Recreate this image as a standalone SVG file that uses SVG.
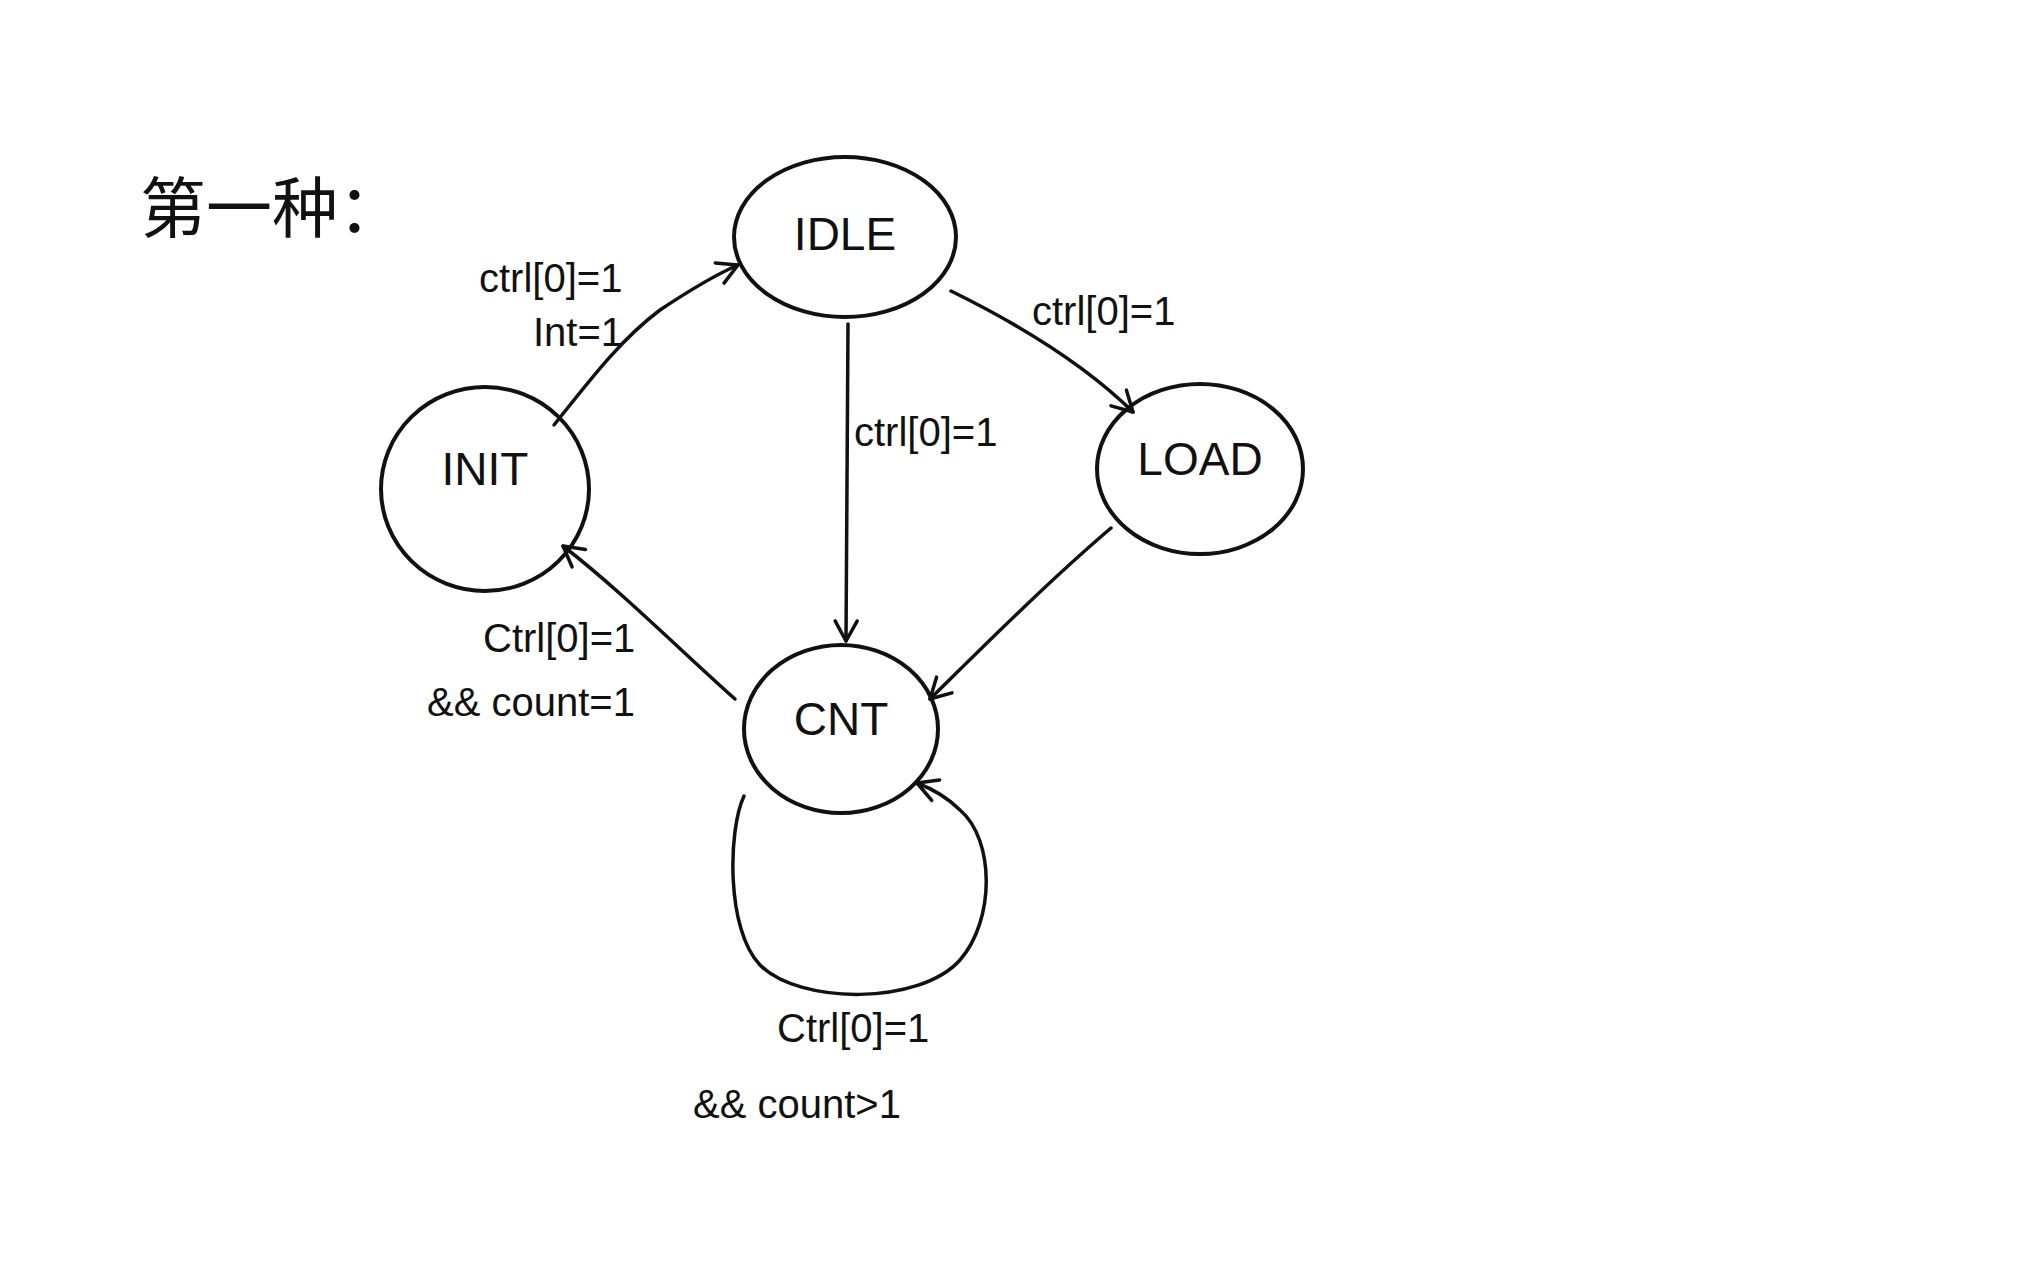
<svg xmlns="http://www.w3.org/2000/svg" width="2030" height="1279" viewBox="0 0 2030 1279">
<defs>
<style>
.node{fill:none;stroke:#111;stroke-width:4}
.edge{fill:none;stroke:#111;stroke-width:3.5;stroke-linecap:round}
.nl{font-family:"Liberation Sans","DejaVu Sans",sans-serif;font-size:46px;fill:#111;text-anchor:middle}
.el{font-family:"Liberation Sans","DejaVu Sans",sans-serif;font-size:40px;fill:#111}
.title{font-family:"Noto Sans CJK SC",sans-serif;font-size:66px;fill:#111}
</style>
<marker id="arr" viewBox="-30 -15 32 30" refX="0" refY="0" markerWidth="32" markerHeight="30" markerUnits="userSpaceOnUse" orient="auto" overflow="visible">
<path d="M-20,-11 L0,0 L-20,11" fill="none" stroke="#111" stroke-width="3.5" stroke-linecap="round" stroke-linejoin="round"/>
</marker>
</defs>
<rect width="2030" height="1279" fill="#fff"/>
<text class="title" x="140" y="232">第一种：</text>

<g id="connectors">
<path class="edge" d="M554,425 C590,380 620,340 660,310 C690,290 715,275 738,265" marker-end="url(#arr)"/>
<path class="edge" d="M848,324 L846,641" marker-end="url(#arr)"/>
<path class="edge" d="M951,291 C1010,320 1080,360 1133,412" marker-end="url(#arr)"/>
<path class="edge" d="M1111,528 C1050,580 990,640 930,699" marker-end="url(#arr)"/>
<path class="edge" d="M735,699 C680,650 620,590 563,546" marker-end="url(#arr)"/>
<path class="edge" d="M744,796 C728,830 726,930 760,965 C800,1005 920,1005 960,960 C995,920 995,840 960,810 C945,795 930,788 917,783" marker-end="url(#arr)"/>
<text class="el" x="479" y="292">ctrl[0]=1</text>
<text class="el" x="533" y="346">Int=1</text>
<text class="el" x="1032" y="325">ctrl[0]=1</text>
<text class="el" x="854" y="446">ctrl[0]=1</text>
<text class="el" x="483" y="652">Ctrl[0]=1</text>
<text class="el" x="427" y="716">&amp;&amp; count=1</text>
<text class="el" x="777" y="1042">Ctrl[0]=1</text>
<text class="el" x="693" y="1118">&amp;&amp; count&gt;1</text>
</g>

<g id="IDLE">
<ellipse class="node" cx="845" cy="237" rx="111" ry="80"/>
<text class="nl" x="845" y="250">IDLE</text>
</g>
<g id="INIT">
<ellipse class="node" cx="485" cy="489" rx="104" ry="102"/>
<text class="nl" x="485" y="485">INIT</text>
</g>
<g id="LOAD">
<ellipse class="node" cx="1200" cy="469" rx="103" ry="85"/>
<text class="nl" x="1200" y="475">LOAD</text>
</g>
<g id="CNT">
<ellipse class="node" cx="841" cy="729" rx="97" ry="84"/>
<text class="nl" x="841" y="735">CNT</text>
</g>
</svg>
